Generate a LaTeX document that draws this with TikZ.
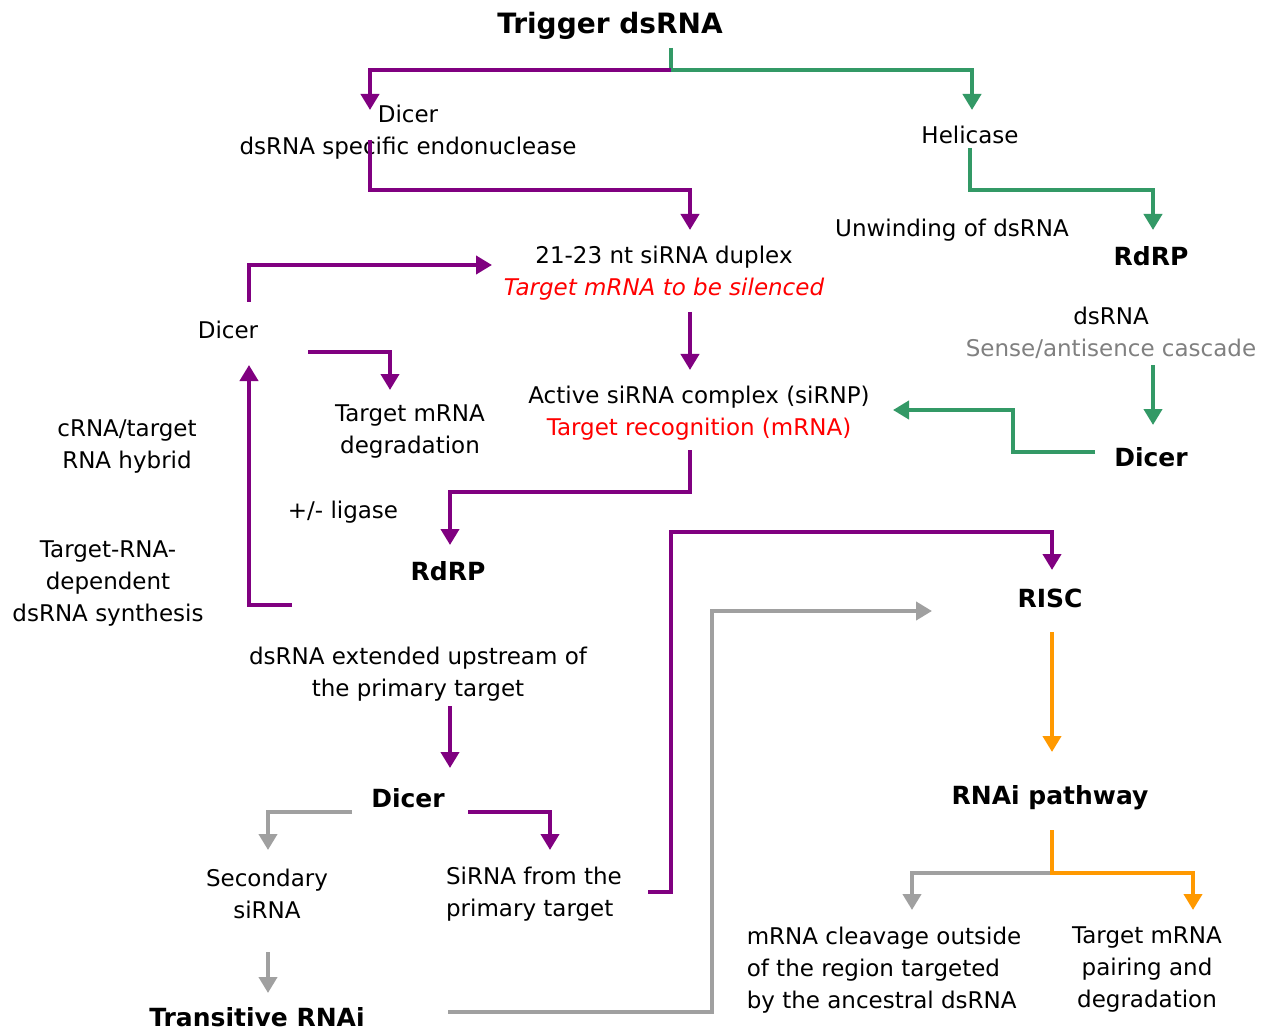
\documentclass[tikz,border=0pt]{standalone}
\usepackage{fontspec}
\setmainfont{DejaVu Sans}
\usetikzlibrary{arrows.meta}
\definecolor{pur}{HTML}{800080}
\definecolor{grn}{HTML}{339966}
\definecolor{gry}{HTML}{A0A0A0}
\definecolor{org}{HTML}{FF9900}
\definecolor{txtgray}{HTML}{808080}
\definecolor{txtred}{HTML}{FF0000}
\begin{document}
\begin{tikzpicture}[x=1pt,y=-1pt,
  lbl/.style={inner sep=0pt, yshift=-2pt, align=center, font=\fontsize{23}{32}\selectfont},
  blbl/.style={inner sep=0pt, yshift=-2pt, align=center, font=\fontsize{25}{32}\selectfont\bfseries},
  line/.style={line width=4.6pt},
  conn/.style={line width=4.6pt, -{Triangle[width=18pt,length=16pt]}},
  pconn/.style={conn, draw=pur},
  gconn/.style={conn, draw=grn},
  yconn/.style={conn, draw=gry},
  oconn/.style={conn, draw=org}]
\useasboundingbox[fill=white] (0,0) rectangle (1264,1032);

% nodes
\node[blbl, font=\fontsize{28}{32}\selectfont\bfseries] (trig) at (610,24) {Trigger dsRNA};
\node[lbl] (dicerA) at (408,130) {Dicer\\dsRNA specific endonuclease};
\node[lbl] (heli) at (970,133) {Helicase};
\node[lbl] (unw) at (952,228) {Unwinding of dsRNA};
\node[blbl] (rdrpA) at (1151,254) {RdRP};
\node[lbl] (cas) at (1111,331) {dsRNA\\\textcolor{txtgray}{Sense/antisence cascade}};
\node[blbl] (dicerB) at (1151,455) {Dicer};
\node[lbl] (dup) at (664,271) {21-23 nt siRNA duplex\\\textcolor{txtred}{\itshape Target mRNA to be silenced}};
\node[lbl] (act) at (699,411) {Active siRNA complex (siRNP)\\\textcolor{txtred}{Target recognition (mRNA)}};
\node[lbl] (dicerC) at (228,328) {Dicer};
\node[lbl] (deg) at (410,430) {Target mRNA\\degradation};
\node[lbl] (hyb) at (127,445) {cRNA/target\\RNA hybrid};
\node[lbl] (lig) at (343,510) {+/- ligase};
\node[blbl] (rdrpB) at (448,569) {RdRP};
\node[lbl] (synth) at (108,582) {Target-RNA-\\dependent\\dsRNA synthesis};
\node[lbl] (ext) at (418,672) {dsRNA extended upstream of\\the primary target};
\node[blbl] (dicerD) at (408,796) {Dicer};
\node[lbl] (sec) at (267,892) {Secondary\\siRNA};
\node[lbl, align=left] (prim) at (534,892) {SiRNA from the\\primary target};
\node[blbl] (trans) at (257,1015) {Transitive RNAi};
\node[blbl] (risc) at (1050,596) {RISC};
\node[blbl] (path) at (1050,796) {RNAi pathway};
\node[lbl, align=left] (clv) at (884,968) {mRNA cleavage outside\\of the region targeted\\by the ancestral dsRNA};
\node[lbl] (pair) at (1147,968) {Target mRNA\\pairing and\\degradation};

% connector end points
\coordinate (trigS) at (671,48);
\coordinate (trigJ) at (671,70);
\coordinate (dicerAN) at (370,110);
\coordinate (heliN) at (972,110);
\coordinate (dicerAS) at (370,140);
\coordinate (dupN) at (690,230);
\coordinate (dupS) at (690,312);
\coordinate (actN) at (690,370);
\coordinate (actS) at (690,450);
\coordinate (rdrpBN) at (450,545);
\coordinate (synthE) at (292,605);
\coordinate (dicerCS) at (249,365);
\coordinate (dicerCN) at (249,302);
\coordinate (dupW) at (492,265);
\coordinate (dicerCE) at (308,352);
\coordinate (degN) at (390,390);
\coordinate (extS) at (450,706);
\coordinate (dicerDN) at (450,768);
\coordinate (dicerDE) at (468,812);
\coordinate (primN) at (550,850);
\coordinate (primE) at (648,892);
\coordinate (riscN) at (1052,570);
\coordinate (dicerDW) at (352,812);
\coordinate (secN) at (268,850);
\coordinate (secS) at (268,952);
\coordinate (transN) at (268,993);
\coordinate (transE) at (448,1012);
\coordinate (riscW) at (932,611);
\coordinate (riscS) at (1052,632);
\coordinate (pathN) at (1052,752);
\coordinate (pathS) at (1052,830);
\coordinate (pathJ) at (1052,873);
\coordinate (clvN) at (912,910);
\coordinate (pairN) at (1193,910);
\coordinate (heliS) at (970,148);
\coordinate (rdrpAN) at (1153,230);
\coordinate (casS) at (1153,365);
\coordinate (dicerBN) at (1153,425);
\coordinate (dicerBW) at (1095,452);
\coordinate (actE) at (893,410);

% green
\draw[line, draw=grn] (trigS) -- (trigJ);
\draw[gconn] (trigJ) -- (972,70) -- (heliN);
\draw[gconn] (heliS) -- (970,190) -- (1153,190) -- (rdrpAN);
\draw[gconn] (casS) -- (dicerBN);
\draw[gconn] (dicerBW) -- (1013,452) -- (1013,410) -- (actE);
% purple
\draw[pconn] (trigJ) -- (370,70) -- (dicerAN);
\draw[pconn] (dicerAS) -- (370,190) -- (690,190) -- (dupN);
\draw[pconn] (dupS) -- (actN);
\draw[pconn] (actS) -- (690,492) -- (450,492) -- (rdrpBN);
\draw[pconn] (synthE) -- (249,605) -- (dicerCS);
\draw[pconn] (dicerCN) -- (249,265) -- (dupW);
\draw[pconn] (dicerCE) -- (390,352) -- (degN);
\draw[pconn] (extS) -- (dicerDN);
\draw[pconn] (dicerDE) -- (550,812) -- (primN);
\draw[pconn] (primE) -- (671,892) -- (671,532) -- (1052,532) -- (riscN);
% gray
\draw[yconn] (dicerDW) -- (268,812) -- (secN);
\draw[yconn] (secS) -- (transN);
\draw[yconn] (transE) -- (712,1012) -- (712,611) -- (riscW);
\draw[yconn] (pathJ) -- (912,873) -- (clvN);
% orange
\draw[oconn] (riscS) -- (pathN);
\draw[oconn] (pathS) -- (pathJ) -- (1193,873) -- (pairN);
\end{tikzpicture}
\end{document}
